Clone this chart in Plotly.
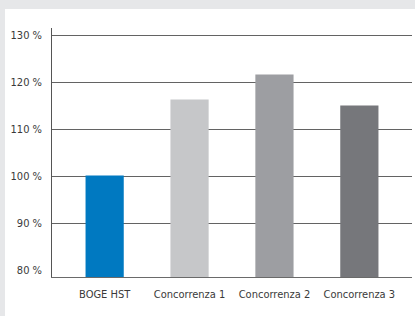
import plotly.graph_objects as go

categories = ["BOGE HST", "Concorrenza 1", "Concorrenza 2", "Concorrenza 3"]
values = [100.2, 116.4, 121.7, 115.1]
colors = ["#0079c1", "#c6c7c9", "#9d9ea2", "#76777b"]
label_ticks = [80, 90, 100, 110, 120, 130]
grid_ticks = [90, 100, 110, 120, 130]
tick_text = [f"{v} %" for v in label_ticks]

FONT = "DejaVu Sans Condensed, Liberation Sans Narrow, sans-serif"

W, H = 415, 316
L, R, T, B = 52, 3, 28, 39
pw, ph = W - L - R, H - T - B
YR = [78.6, 131.6]

fig = go.Figure()
# invisible trace on primary y (carries the gridlines)
fig.add_trace(go.Scatter(x=categories, y=values, mode="markers",
                         marker=dict(opacity=0), hoverinfo="skip", showlegend=False))
fig.add_trace(go.Bar(
    x=categories, y=values, yaxis="y2", marker=dict(color=colors, line=dict(width=0)),
    width=0.45, hoverinfo="skip", showlegend=False,
))

fig.update_layout(
    width=W, height=H,
    margin=dict(l=L, r=R, t=T, b=B, pad=0, autoexpand=False),
    paper_bgcolor="#e6e7e9",
    plot_bgcolor="white",
    font=dict(family=FONT, size=11, color="#3a3a3a"),
    xaxis=dict(
        range=[-0.62, 3.62], showgrid=False, ticks="", showline=True,
        linecolor="#6a6a6a", linewidth=1, ticklabelstandoff=7, automargin=False,
        tickfont=dict(family=FONT, size=11, color="#3a3a3a"),
    ),
    yaxis=dict(
        range=YR, tickvals=grid_ticks, showgrid=True, automargin=False,
        gridcolor="#636363", gridwidth=1.5, showticklabels=False,
        ticks="", zeroline=False, showline=True, linecolor="#555", linewidth=1,
    ),
    yaxis2=dict(
        overlaying="y", side="left", range=YR, tickvals=label_ticks,
        ticktext=tick_text, showgrid=False, ticks="", showline=False,
        zeroline=False, ticklabelstandoff=9, automargin=False,
        tickfont=dict(family=FONT, size=11, color="#3a3a3a"),
    ),
    shapes=[dict(
        type="rect", xref="paper", yref="paper", layer="below",
        x0=(5 - L) / pw, x1=(W - L) / pw,
        y0=(H - B - H) / ph, y1=(H - B - 9) / ph,
        fillcolor="white", line=dict(width=0),
    )],
)
fig.write_html(
    "out.html",
    config={"displayModeBar": False, "staticPlot": True},
    post_script="document.body.style.margin='0';document.body.style.overflow='hidden';",
)
